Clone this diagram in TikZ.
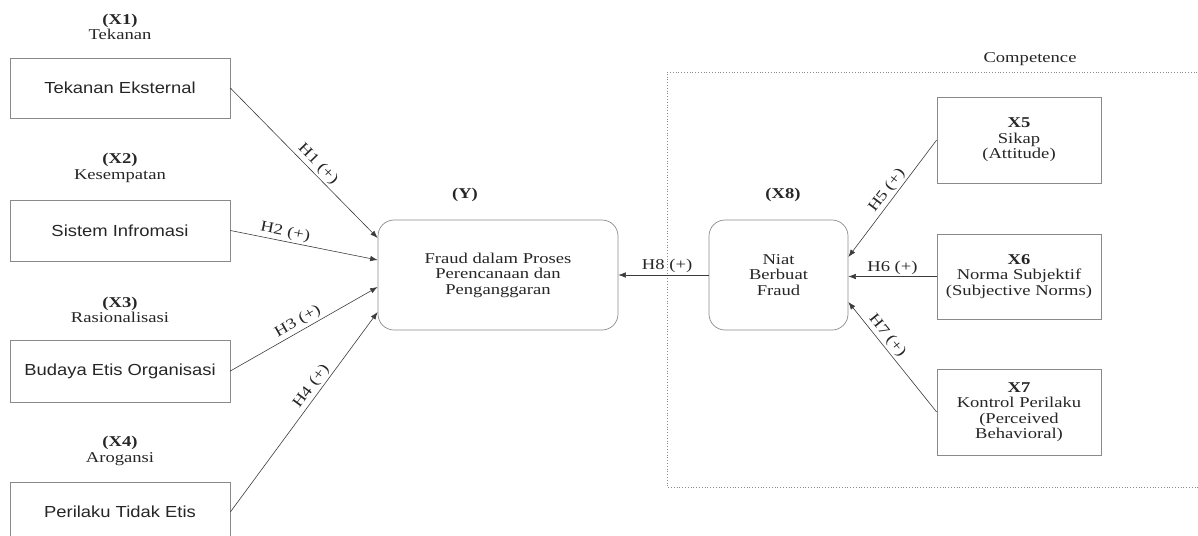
\documentclass[tikz,border=0pt]{standalone}
\usepackage{fontspec}
\setmainfont[FakeStretch=1.24]{Liberation Serif}
\setsansfont[FakeStretch=1.15]{Liberation Sans}
\usetikzlibrary{arrows.meta,calc}
\definecolor{linegray}{HTML}{3C3C3C}
\definecolor{boxgray}{HTML}{8A8A8A}
\definecolor{inkgray}{HTML}{262626}

\begin{document}
\begin{tikzpicture}[x=1pt,y=-1pt,
  every node/.style={text=inkgray, font=\fontsize{15}{15.5}\selectfont, align=center, inner sep=1pt},
  factorbox/.style={draw=boxgray, line width=0.7pt, minimum width=220pt, minimum height=60pt,
    font=\sffamily\fontsize{16}{18}\selectfont},
  theorybox/.style={draw=boxgray, line width=0.7pt, minimum width=164pt, minimum height=86pt},
  roundbox/.style={draw=boxgray, line width=0.7pt, rounded corners=16pt, minimum height=110pt},
  link/.style={draw=linegray, line width=0.6pt, -{Latex[length=7.5pt,width=5.5pt]}},
  hyp/.style={sloped, above, inner sep=2pt},
]
\useasboundingbox (0,0) rectangle (1198,535);
\clip (0,0) rectangle (1198,535);

% fraud triangle / diamond factors
\node (l1) at (120,27) {\textbf{(X1)}\\Tekanan};
\node[factorbox] (x1) at (120,88) {Tekanan Eksternal};
\node (l2) at (120,168) {\textbf{(X2)}\\Kesempatan};
\node[factorbox, minimum height=61pt] (x2) at (120,230.5) {Sistem Infromasi};
\node (l3) at (120,310) {\textbf{(X3)}\\Rasionalisasi};
\node[factorbox, minimum height=62pt] (x3) at (120,371) {Budaya Etis Organisasi};
\node (l4) at (120,451) {\textbf{(X4)}\\Arogansi};
\node[factorbox] (x4) at (120,512) {Perilaku Tidak Etis};

% dependent variable
\node (ly) at (465,195) {\textbf{(Y)}};
\node[roundbox, minimum width=240pt] (y) at (498,275)
  {Fraud dalam Proses\\Perencanaan dan\\Penganggaran};

% competence frame
\draw[boxgray, line width=0.8pt, dotted] (1200,72) -- (667,72) -- (667,487) -- (1200,487);
\node (comp) at (1030,59) {Competence};

% intention and its antecedents
\node (l8) at (783,195) {\textbf{(X8)}};
\node[roundbox, minimum width=139pt] (x8) at (778.5,275) {Niat\\Berbuat\\Fraud};
\node[theorybox] (x5) at (1019,140) {\textbf{X5}\\Sikap\\(Attitude)};
\node[theorybox, minimum height=85pt] (x6) at (1019,276.5) {\textbf{X6}\\Norma Subjektif\\(Subjective Norms)};
\node[theorybox] (x7) at (1019,412) {\textbf{X7}\\Kontrol Perilaku\\(Perceived\\Behavioral)};

% hypotheses
\draw[link] (x1.east) -- node[hyp, pos=0.55] {H1 (+)} ($(y.west)+(0,-37)$);
\draw[link] (x2.east) -- node[hyp, pos=0.36] {H2 (+)} ($(y.west)+(0,-15)$);
\draw[link] (x3.east) -- node[hyp, pos=0.49] {H3 (+)} ($(y.west)+(0,12)$);
\draw[link] (x4.east) -- node[hyp, pos=0.6] {H4 (+)} ($(y.west)+(0,37)$);
\draw[link] (x5.west) -- node[hyp, pos=0.48] {H5 (+)} ($(x8.east)+(0,-18)$);
\draw[link] (x6.west) -- node[hyp, pos=0.5] {H6 (+)} (x6.west -| x8.east);
\draw[link] (x7.west) -- node[hyp, pos=0.64] {H7 (+)} ($(x8.east)+(0,27)$);
\draw[link] (x8.west) -- node[hyp, pos=0.46] {H8 (+)} (y.east);
\end{tikzpicture}
\end{document}
